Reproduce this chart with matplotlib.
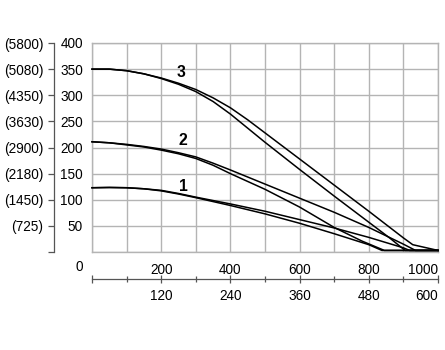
import matplotlib
matplotlib.use("Agg")
import matplotlib.pyplot as plt

plt.rcParams["font.family"] = ["Liberation Sans", "DejaVu Sans"]

# Flow values for the two x scales
flow_main_ticks = [200, 400, 600, 800, 1000]
flow_alt_ticks = [120, 240, 360, 480, 600]

# Head values, main scale and the bracketed alternative scale
head_ticks = [50, 100, 150, 200, 250, 300, 350, 400]
head_alt_labels = ["(725)", "(1450)", "(2180)", "(2900)", "(3630)", "(4350)", "(5080)", "(5800)"]

# Curve 1 (two lines)
c1a_x = [0, 50, 100, 150, 200, 250, 300, 400, 500, 600, 700, 800, 900, 918, 1000]
c1a_y = [123, 123.5, 123, 121, 118, 112, 105, 92, 78, 62, 46, 28, 8, 3, 3]
c1b_x = [0, 50, 100, 150, 200, 250, 300, 400, 500, 600, 700, 800, 838, 1000]
c1b_y = [123, 123.5, 123, 121, 117, 111, 104, 89, 73, 55, 35, 14, 3, 3]

# Curve 2 (two lines)
c2a_x = [0, 50, 100, 150, 200, 250, 300, 350, 400, 500, 600, 700, 800, 900, 935, 1000]
c2a_y = [211, 209, 206, 202, 197, 190, 182, 170, 157, 130, 103, 76, 47, 15, 3, 3]
c2b_x = [0, 50, 100, 150, 200, 250, 300, 350, 400, 500, 600, 700, 780, 845, 1000]
c2b_y = [211, 209, 205, 201, 195, 188, 179, 166, 150, 120, 86, 47, 21, 3, 3]

# Curve 3 (two lines)
c3a_x = [0, 50, 100, 150, 200, 250, 300, 350, 400, 450, 500, 600, 700, 800, 900, 927, 1000]
c3a_y = [350, 350, 347, 341, 333, 323, 311, 295, 276, 253, 228, 178, 128, 78, 27, 14, 3]
c3b_x = [0, 50, 100, 150, 200, 250, 300, 350, 400, 450, 500, 600, 700, 800, 860, 905, 1000]
c3b_y = [350, 350, 347, 341, 332, 321, 307, 288, 264, 237, 210, 158, 107, 57, 27, 3, 3]

curve_labels = ["1", "2", "3"]
label_x = [264, 264, 258]
label_y = [126, 214, 344]

W, H = 445, 350
fig = plt.figure(figsize=(W / 100, H / 100), dpi=100)

grid_col = "#b4b4b4"
axis_col = "#555555"
fs = 9.8

# main chart
ax = fig.add_axes([92 / W, 1 - 252 / H, (438 - 92) / W, (252 - 43) / H])
ax.set_xlim(0, 1000)
ax.set_ylim(0, 400)
ax.set_xticks(range(0, 1001, 100))
ax.set_xticklabels(["" if v not in flow_main_ticks else str(v) for v in range(0, 1001, 100)])
ax.set_yticks([0] + head_ticks)
ax.set_yticklabels([""] + [str(v) for v in head_ticks])
ax.tick_params(length=0, labelsize=fs)
ax.tick_params(axis="x", pad=8)
ax.tick_params(axis="y", pad=6.5)
ax.get_xticklabels()[-1].set_horizontalalignment("right")
ax.grid(True, color=grid_col, lw=1)
for s in ax.spines.values():
    s.set_color(grid_col)
    s.set_linewidth(1)
ax.text(-0.025, -29, "0", transform=ax.get_yaxis_transform(), ha="right", va="center",
        fontsize=fs)

for xs, ys in [(c1a_x, c1a_y), (c1b_x, c1b_y), (c2a_x, c2a_y),
               (c2b_x, c2b_y), (c3a_x, c3a_y), (c3b_x, c3b_y)]:
    ax.plot(xs, ys, color="black", lw=1.1, solid_joinstyle="round", zorder=3, clip_on=False)

for t, lx, ly in zip(curve_labels, label_x, label_y):
    ax.text(lx, ly, t, ha="center", va="center", fontsize=fs + 1.5, fontweight="bold",
            color="black", zorder=4)

# alternative flow scale below
axb = fig.add_axes([92 / W, 1 - 279 / H, (438 - 92) / W, 0.001])
axb.set_xlim(0, 600)
axb.set_yticks([])
for k in ["top", "left", "right"]:
    axb.spines[k].set_visible(False)
axb.spines["bottom"].set_color(axis_col)
axb.spines["bottom"].set_linewidth(0.9)
axb.set_xticks([0] + flow_alt_ticks)
axb.set_xticklabels([""] + [str(v) for v in flow_alt_ticks])
axb.get_xticklabels()[-1].set_horizontalalignment("right")
axb.set_xticks(range(60, 600, 120), minor=True)
axb.tick_params(axis="x", which="major", direction="inout", length=6, width=0.9,
                color=axis_col, labelsize=fs, pad=4)
axb.tick_params(axis="x", which="minor", direction="inout", length=5, width=0.9,
                color=axis_col)

# alternative head scale on the left
axl = fig.add_axes([54 / W, 1 - 252 / H, 0.001, (252 - 43) / H])
axl.set_ylim(0, 400)
axl.set_xticks([])
for k in ["top", "bottom", "right"]:
    axl.spines[k].set_visible(False)
axl.spines["left"].set_color(axis_col)
axl.spines["left"].set_linewidth(0.9)
axl.set_yticks([0] + head_ticks)
axl.set_yticklabels([""] + head_alt_labels)
axl.tick_params(axis="y", direction="out", length=4, width=0.9, color=axis_col,
                labelsize=fs, pad=3.5)

fig.savefig("out.png", dpi=100)
